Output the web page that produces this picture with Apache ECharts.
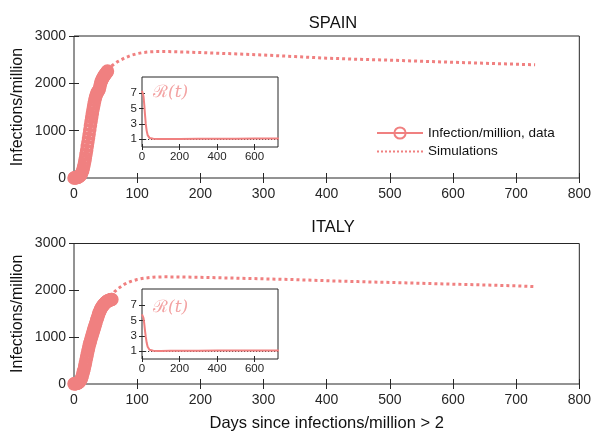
<!DOCTYPE html>
<html>
<head>
<meta charset="utf-8">
<script src="https://cdn.jsdelivr.net/npm/echarts@6/dist/echarts.min.js"></script>
<style>
html,body{margin:0;padding:0;background:#fff;}
#chart{width:594px;height:435px;}
</style>
</head>
<body>
<div id="chart"></div>
<script>
// ---- data ----
const xTicks = [0, 100, 200, 300, 400, 500, 600, 700, 800];
const yTicks = [0, 1000, 2000, 3000];
const insetXTicks = [0, 200, 400, 600];
const insetYTicks = [1, 3, 5, 7];

// daily data, day = index
const spainData = [2,3,4,6,8,10,14,20,30,42,55,75,100,130,170,220,280,350,420,500,
  580,670,760,845,930,1020,1110,1195,1280,1360,1440,1510,1580,1640,1700,1745,1780,1810,1830,1850,
  1880,1930,1990,2040,2070,2095,2120,2145,2165,2185,2200,2220,2240,2260];
const italyData = [3,5,7,9,12,15,20,28,40,54,70,98,130,172,220,270,320,380,440,505,
  570,635,700,760,820,870,920,965,1010,1055,1100,1145,1190,1235,1280,1325,1370,1410,1450,1490,
  1530,1560,1590,1615,1640,1660,1680,1695,1710,1725,1740,1750,1760,1770,1780,1785,1790,1795,1800,1803,1805];

const spainSimDays = [53,56,60,65,70,80,90,100,110,120,130,150,175,200,250,300,350,400,450,500,550,600,650,700,730];
const spainSim = [2270,2320,2370,2420,2465,2535,2590,2628,2652,2665,2670,2670,2662,2650,2625,2598,2565,2532,2508,2490,2466,2445,2424,2404,2392];
const italySimDays = [58,60,64,70,80,90,100,110,125,140,160,200,250,300,350,400,450,500,550,600,650,700,730];
const italySim = [1860,1900,1968,2040,2130,2190,2232,2258,2280,2288,2287,2278,2262,2246,2228,2205,2186,2168,2150,2132,2114,2096,2080];

const rDays = [0,4,8,12,16,20,25,30,35,40,50,60,70,85,100,150,200,300,400,500,600,730];
const spainR = [7.3,7.2,6.6,5.5,4.2,3.0,2.1,1.55,1.3,1.18,1.1,1.07,1.05,1.04,1.04,1.05,1.05,1.06,1.07,1.08,1.09,1.1];
const italyR = [5.8,5.7,5.3,4.6,3.7,2.9,2.1,1.6,1.35,1.2,1.12,1.08,1.06,1.05,1.05,1.06,1.07,1.08,1.09,1.1,1.11,1.12];
const rThreshold = 1;

const titles = ['SPAIN', 'ITALY'];
const seriesNames = ['Infection/million, data', 'Simulations'];

// ---- style ----
const C = '#F08080';
const INK = '#262626';
const FONT = '"Liberation Sans", Arial, Helvetica, sans-serif';

const pairs = (xs, ys) => ys.map((v, i) => [xs[i], v]);
const daily = ys => ys.map((v, i) => [i, v]);

const mainGrids = [
  {left: 74, top: 36, width: 508.5, height: 142},
  {left: 74, top: 243.5, width: 508.5, height: 140.5}
];
const insetGrids = [
  {left: 142, top: 77, width: 136, height: 70},
  {left: 142, top: 289, width: 136, height: 70}
];

const grid = [...mainGrids, ...insetGrids].map(g => Object.assign({
  show: true, borderColor: INK, borderWidth: 1, backgroundColor: 'rgba(255,255,255,0)'
}, g));

const plain = v => String(v);

function xMain(gi, top, withName) {
  return {
    type: 'value', gridIndex: gi, position: top ? 'top' : 'bottom',
    min: xTicks[0], max: xTicks[xTicks.length - 1], interval: 100,
    axisLine: {show: false},
    axisTick: {show: true, inside: true, length: 5, lineStyle: {color: INK}},
    axisLabel: {show: !top, color: INK, fontFamily: FONT, fontSize: 14, margin: 9, formatter: plain},
    splitLine: {show: false},
    name: withName ? 'Days since infections/million > 2' : '',
    nameLocation: 'middle', nameGap: 31, nameMoveOverlap: false,
    nameTextStyle: {color: '#111', fontFamily: FONT, fontSize: 16.5}
  };
}
function yMain(gi, right) {
  return {
    type: 'value', gridIndex: gi, position: right ? 'right' : 'left',
    min: yTicks[0], max: yTicks[yTicks.length - 1], interval: 1000,
    axisLine: {show: false},
    axisTick: {show: true, inside: true, length: 5, lineStyle: {color: INK}},
    axisLabel: {show: !right, color: INK, fontFamily: FONT, fontSize: 14, margin: 8, formatter: plain},
    splitLine: {show: false},
    name: right ? '' : 'Infections/million',
    nameLocation: 'middle', nameGap: 48, nameMoveOverlap: false,
    nameTextStyle: {color: '#111', fontFamily: FONT, fontSize: 16}
  };
}
function xInset(gi, top) {
  return {
    type: 'value', gridIndex: gi, position: top ? 'top' : 'bottom',
    min: 0, max: 725,
    axisLine: {show: false},
    axisTick: {show: true, inside: true, length: 3, lineStyle: {color: INK}, customValues: insetXTicks},
    axisLabel: {show: !top, color: INK, fontFamily: FONT, fontSize: 11.5, margin: 4, customValues: insetXTicks, formatter: plain},
    splitLine: {show: false}
  };
}
function yInset(gi, right) {
  return {
    type: 'value', gridIndex: gi, position: right ? 'right' : 'left',
    min: 0, max: 9.1,
    axisLine: {show: false},
    axisTick: {show: true, inside: true, length: 3, lineStyle: {color: INK}, customValues: insetYTicks},
    axisLabel: {show: !right, color: INK, fontFamily: FONT, fontSize: 11.5, margin: 5, customValues: insetYTicks, formatter: plain},
    splitLine: {show: false}
  };
}

const xAxis = [xMain(0,false,false), xMain(0,true,false), xMain(1,false,true), xMain(1,true,false),
  xInset(2,false), xInset(2,true), xInset(3,false), xInset(3,true)];
const yAxis = [yMain(0,false), yMain(0,true), yMain(1,false), yMain(1,true),
  yInset(2,false), yInset(2,true), yInset(3,false), yInset(3,true)];

function dataSeries(xi, yi, d) {
  return {
    name: seriesNames[0], type: 'line', xAxisIndex: xi, yAxisIndex: yi, data: d,
    symbol: 'circle', symbolSize: 10.5, showSymbol: true,
    itemStyle: {color: 'rgba(255,255,255,0)', borderColor: C, borderWidth: 3},
    lineStyle: {color: C, width: 2.5}, z: 3
  };
}
function simSeries(xi, yi, d) {
  return {
    name: seriesNames[1], type: 'line', xAxisIndex: xi, yAxisIndex: yi, data: d,
    symbol: 'none', itemStyle: {color: C},
    lineStyle: {color: C, width: 3, type: 'dotted'}, z: 2
  };
}
function rSeries(xi, yi, d, nm) {
  return {
    name: nm, type: 'line', xAxisIndex: xi, yAxisIndex: yi, data: d,
    symbol: 'none', lineStyle: {color: C, width: 2}, z: 4,
    markLine: {
      silent: true, symbol: 'none', label: {show: false},
      lineStyle: {color: '#333', width: 1, type: [1.2, 1.8]},
      data: [{yAxis: rThreshold}], z: 3
    }
  };
}

const series = [
  simSeries(0, 0, pairs(spainSimDays, spainSim)),
  dataSeries(0, 0, daily(spainData)),
  simSeries(2, 2, pairs(italySimDays, italySim)),
  dataSeries(2, 2, daily(italyData)),
  rSeries(4, 4, pairs(rDays, spainR), 'R Spain'),
  rSeries(6, 6, pairs(rDays, italyR), 'R Italy')
];

const rLabelStyle = {
  text: '{r|ℛ}{t|(t)}', fill: '#F3A3A3',
  rich: {
    r: {fontFamily: '"DejaVu Serif", serif', fontSize: 17, fill: '#F3A3A3'},
    t: {fontFamily: '"DejaVu Serif", serif', fontStyle: 'italic', fontSize: 17, fill: '#F3A3A3'}
  }
};

const option = {
  animation: false,
  backgroundColor: '#fff',
  title: [
    {text: titles[0], left: 328, top: 10, textAlign: 'center',
     textStyle: {fontFamily: FONT, fontSize: 16.5, fontWeight: 'normal', color: '#111'}},
    {text: titles[1], left: 328, top: 214, textAlign: 'center',
     textStyle: {fontFamily: FONT, fontSize: 16.5, fontWeight: 'normal', color: '#111'}}
  ],
  legend: {
    data: [
      {name: seriesNames[0]},
      {name: seriesNames[1], itemStyle: {opacity: 0}}
    ],
    orient: 'vertical', left: 371, top: 121,
    itemWidth: 46, itemHeight: 14, itemGap: 4.5,
    textStyle: {fontFamily: FONT, fontSize: 13.5, color: '#111'}
  },
  graphic: [
    {type: 'text', x: 153, y: 84, style: rLabelStyle},
    {type: 'text', x: 153, y: 299, style: rLabelStyle}
  ],
  grid, xAxis, yAxis, series
};

const chart = echarts.init(document.getElementById('chart'), null, {renderer: 'canvas'});
chart.setOption(option);
</script>
</body>
</html>
